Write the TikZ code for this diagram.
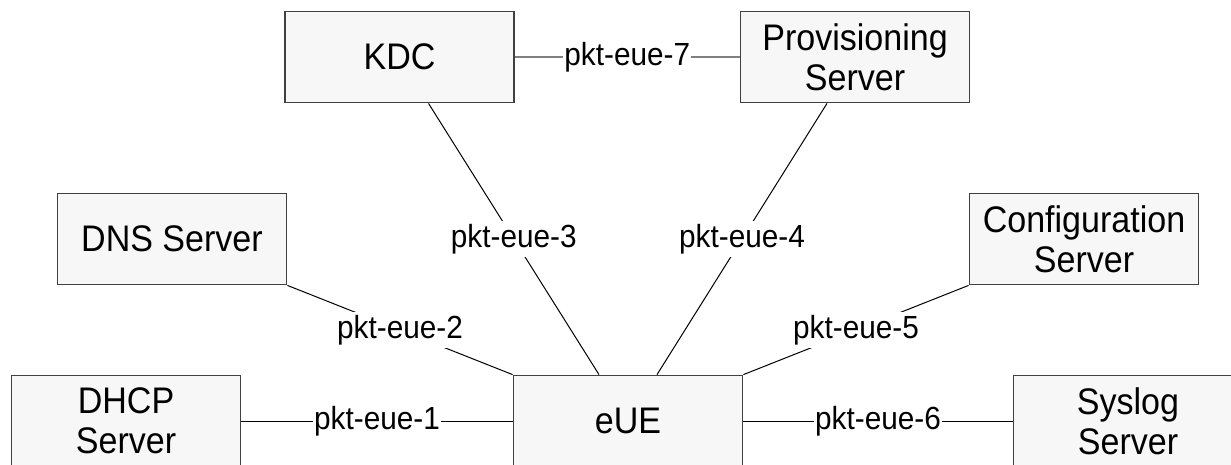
\documentclass[tikz,border=0pt]{standalone}
\usepackage{fontspec}
\setmainfont{Liberation Sans}
\newfontfamily\boxfont[FakeStretch=0.92]{Liberation Sans}
\newfontfamily\lblfont[FakeStretch=0.93]{Liberation Sans}
\definecolor{boxfill}{HTML}{F7F7F7}
\definecolor{boxborder}{HTML}{404040}
\definecolor{topline}{HTML}{808080}
\begin{document}
\begin{tikzpicture}[x=1pt,y=-1pt,
  box/.style={draw=boxborder, line width=1.8pt, fill=boxfill, minimum width=229pt, minimum height=91pt, inner sep=0pt, align=center, font=\boxfont\fontsize{37}{40}\selectfont},
  lbl/.style={fill=white, inner xsep=1pt, inner ysep=3pt, font=\lblfont\fontsize{32}{36}\selectfont},
  conn/.style={line width=1pt, draw=black}]
\fill[white] (0,0) rectangle (1231,464);
\path[use as bounding box] (0,0) rectangle (1231,464);
\clip (0,0) rectangle (1231,464);
\node[box] (KDC) at (399.5,57) {KDC};
\node[box] (Prov) at (855,57) {Provisioning\\Server};
\node[box] (DNS) at (172,239) {DNS Server};
\node[box] (Conf) at (1084,239) {Configuration\\Server};
\node[box] (DHCP) at (126,421) {DHCP\\Server};
\node[box] (eUE) at (628,421) {eUE};
\node[box] (Sys) at (1128,421) {Syslog\\Server};
\draw[line width=1.6pt, draw=topline] (KDC) -- node[lbl]{pkt-eue-7} (Prov);
\draw[conn] (DHCP) -- node[lbl]{pkt-eue-1} (eUE);
\draw[conn] (eUE) -- node[lbl]{pkt-eue-6} (Sys);
\draw[conn] (DNS.south east) -- node[lbl]{pkt-eue-2} (eUE.north west);
\draw[conn] (Conf.south west) -- node[lbl]{pkt-eue-5} (eUE.north east);
\draw[conn] ([xshift=29pt]KDC.south) -- node[lbl]{pkt-eue-3} ([xshift=-29pt]eUE.north);
\draw[conn] ([xshift=-28pt]Prov.south) -- node[lbl]{pkt-eue-4} ([xshift=29pt]eUE.north);
\end{tikzpicture}
\end{document}
